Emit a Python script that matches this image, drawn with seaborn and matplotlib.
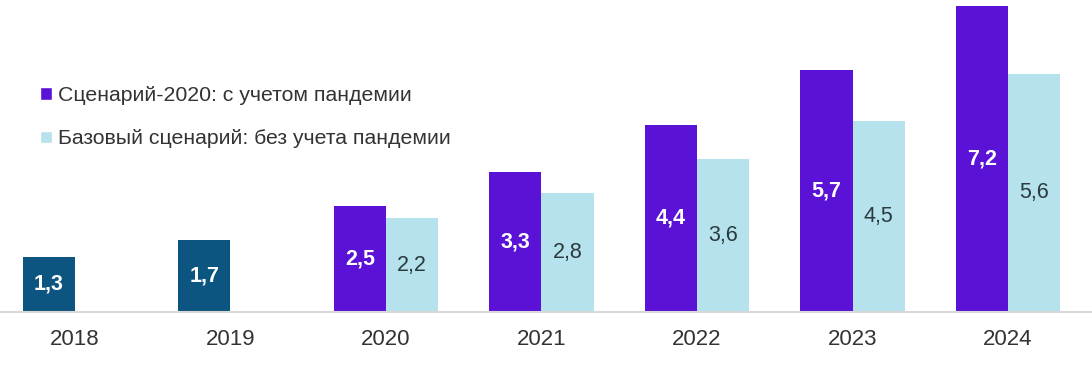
import matplotlib
matplotlib.use("Agg")
import matplotlib.pyplot as plt
import seaborn as sns
import pandas as pd
from matplotlib.patches import Patch

# --- данные ---
fact_years = ["2018", "2019"]
fact_values = [1.3, 1.7]
forecast_years = ["2020", "2021", "2022", "2023", "2024"]
covid_values = [2.5, 3.3, 4.4, 5.7, 7.2]
base_values = [2.2, 2.8, 3.6, 4.5, 5.6]
scen_covid = "Сценарий-2020: с учетом пандемии"
scen_base = "Базовый сценарий: без учета пандемии"

FACT_COLOR = "#0b5580"
COVID_COLOR = "#5a12d6"
BASE_COLOR = "#b5e2ec"
TEXT_COLOR = "#333333"

rows = []
for y, v in zip(fact_years, fact_values):
    rows.append({"year": y, "scenario": scen_covid, "value": v})
for y, v in zip(forecast_years, covid_values):
    rows.append({"year": y, "scenario": scen_covid, "value": v})
for y, v in zip(forecast_years, base_values):
    rows.append({"year": y, "scenario": scen_base, "value": v})
df = pd.DataFrame(rows)

sns.set_style("white")
plt.rcParams['font.family'] = ['Liberation Sans', 'DejaVu Sans']

fig = plt.figure(figsize=(10.92, 3.65), dpi=100)
ax = fig.add_axes([0, 53 / 365, 1, 312 / 365])

sns.barplot(
    data=df, x="year", y="value", hue="scenario",
    order=fact_years + forecast_years,
    hue_order=[scen_covid, scen_base],
    palette=[COVID_COLOR, BASE_COLOR],
    width=0.67, legend=False, ax=ax, saturation=1, errorbar=None,
    linewidth=0,
)

# фактические значения - другим цветом
for bar in ax.containers[0][:len(fact_years)]:
    bar.set_facecolor(FACT_COLOR)

fmt = lambda v: f"{v:.1f}".replace(".", ",")
ax.bar_label(ax.containers[0], labels=[fmt(v) for v in fact_values + covid_values],
             label_type="center", color="white", fontsize=15.5, fontweight="bold")
ax.bar_label(ax.containers[1], labels=[fmt(v) for v in base_values],
             label_type="center", color="#2b3a3f", fontsize=15.5)

ax.set_xlim(-0.482, 6.54)
ax.set_ylim(0, 7.34)
ax.set_xlabel("")
ax.set_ylabel("")
ax.set_yticks([])
for s in ["top", "left", "right"]:
    ax.spines[s].set_visible(False)
ax.spines["bottom"].set_color("#d9d9d9")
ax.spines["bottom"].set_linewidth(1.5)
ax.tick_params(axis="x", length=0, pad=12, labelsize=16, labelcolor=TEXT_COLOR)

handles = [Patch(facecolor=COVID_COLOR, label=scen_covid),
           Patch(facecolor=BASE_COLOR, label=scen_base)]
fig.legend(handles=handles, loc="upper left", bbox_to_anchor=(40 / 1092, 1 - 86 / 365),
           frameon=False, fontsize=15.3, handlelength=0.55, handleheight=0.55,
           handletextpad=0.3, labelspacing=1.15, borderpad=0, borderaxespad=0,
           labelcolor=TEXT_COLOR)

fig.savefig("out.png", dpi=100)
